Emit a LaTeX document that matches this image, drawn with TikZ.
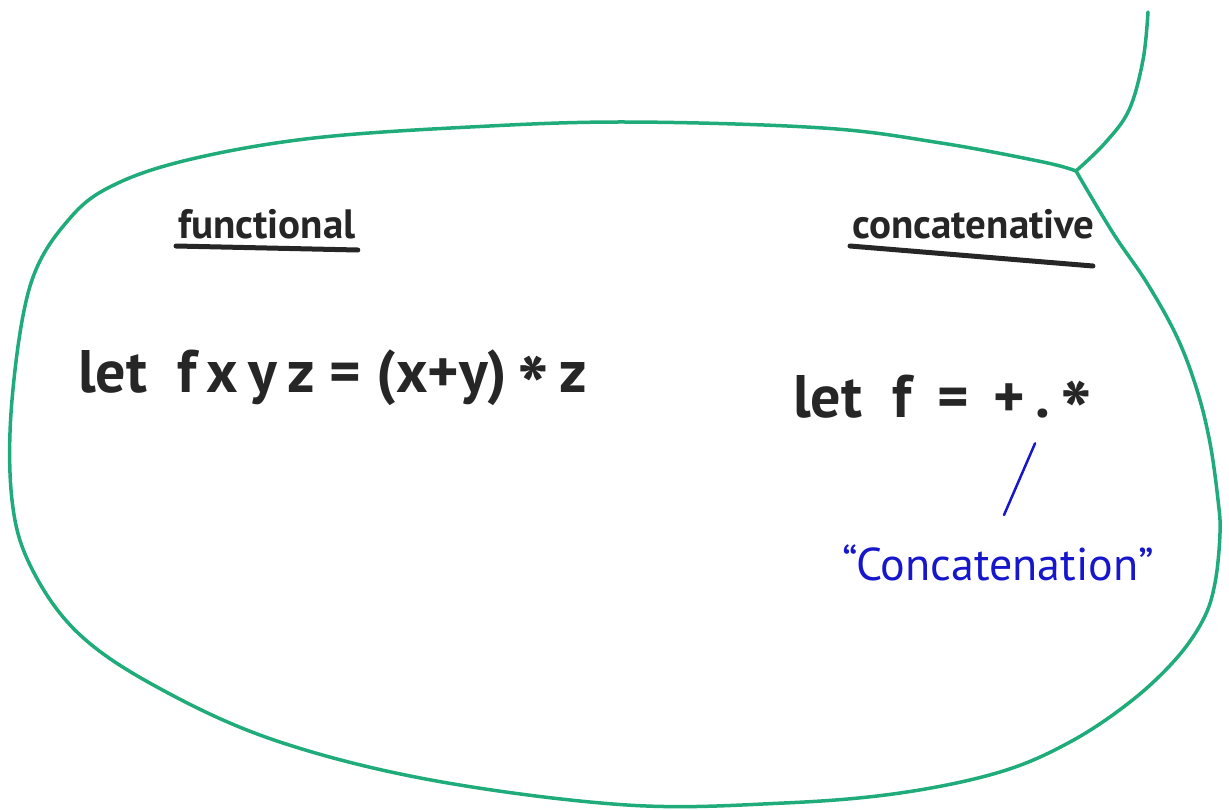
\documentclass[tikz,border=0pt]{standalone}
\usepackage{fontspec}
\setmainfont{PT Sans}
\usetikzlibrary{positioning, calc}

\definecolor{blobgreen}{RGB}{32,172,122}
\definecolor{marker}{RGB}{38,38,38}
\definecolor{penblue}{RGB}{22,22,205}

\newcommand{\midstar}{\raisebox{-0.42em}{\fontsize{84}{84}\selectfont*}}

\begin{document}
\begin{tikzpicture}[
    x=1pt, y=-1pt,
    outline/.style={blobgreen, line width=3.5pt, line cap=round, line join=round}, % green loop
    heading/.style={anchor=base west, inner sep=0pt, text=marker, font=\fontsize{41}{41}\selectfont\bfseries},
    formula/.style={anchor=base west, inner sep=0pt, text=marker, font=\fontsize{60}{60}\selectfont\bfseries},
    underline/.style={marker, line width=5pt, line cap=round},
    note/.style={anchor=base west, inner sep=0pt, text=penblue, font=\fontsize{46}{46}\selectfont}
]
    \useasboundingbox (0,0) rectangle (1229,809);

    % Green loop with its tail at the top right
    \coordinate (knot) at (1076,171);
    \draw[outline] plot[smooth, tension=0.6] coordinates {
        (knot) (1043,162) (941,143) (823,128) (627,122) (470,127) (314,138)
        (196,158) (118,183) (71,217) (31,283) (12,400) (12,500) (31,567)
        (78,633) (157,687) (274,740) (431,780) (627,805) (784,803) (900,793)
        (1000,772) (1070,742) (1130,702) (1175,660) (1203,620) (1215,583)
        (1220,533) (1218,500) (1210,443) (1197,390) (1177,337) (1147,283)
        (1113,233) (knot)};
    \draw[outline] plot[smooth, tension=0.6] coordinates {
        (knot) (1105,143) (1129,110) (1143,60) (1148,12)};

    % Headings
    \node[heading] (functional) at (178,238) {functional};
    \node[heading] (concative) at (852,238) {concatenative};
    \draw[underline] ($(functional.base west)+(-2,8)$) -- ($(functional.base east)+(2,12)$);
    \draw[underline] ($(concative.base west)+(-2,8)$) -- ($(concative.base east)+(-2,28)$);

    % Definitions
    \node[formula] (fundef) at (78,392) {let\ \ f\,x\,y\,z\ =\ (x+y)\,\midstar\,z};
    \node[formula] (catdef) at (793,417) {let\ \ f\, =\, +\,.\,\midstar};

    % Blue annotation
    \coordinate (compose) at (1043,425);
    \coordinate (notetip) at (1004,515);
    \node[note] (concatlbl) at (842,580) {“Concatenation”};
    \draw[penblue, line width=2.5pt, line cap=round, shorten <=20pt]
        (compose) -- (notetip);
\end{tikzpicture}
\end{document}
